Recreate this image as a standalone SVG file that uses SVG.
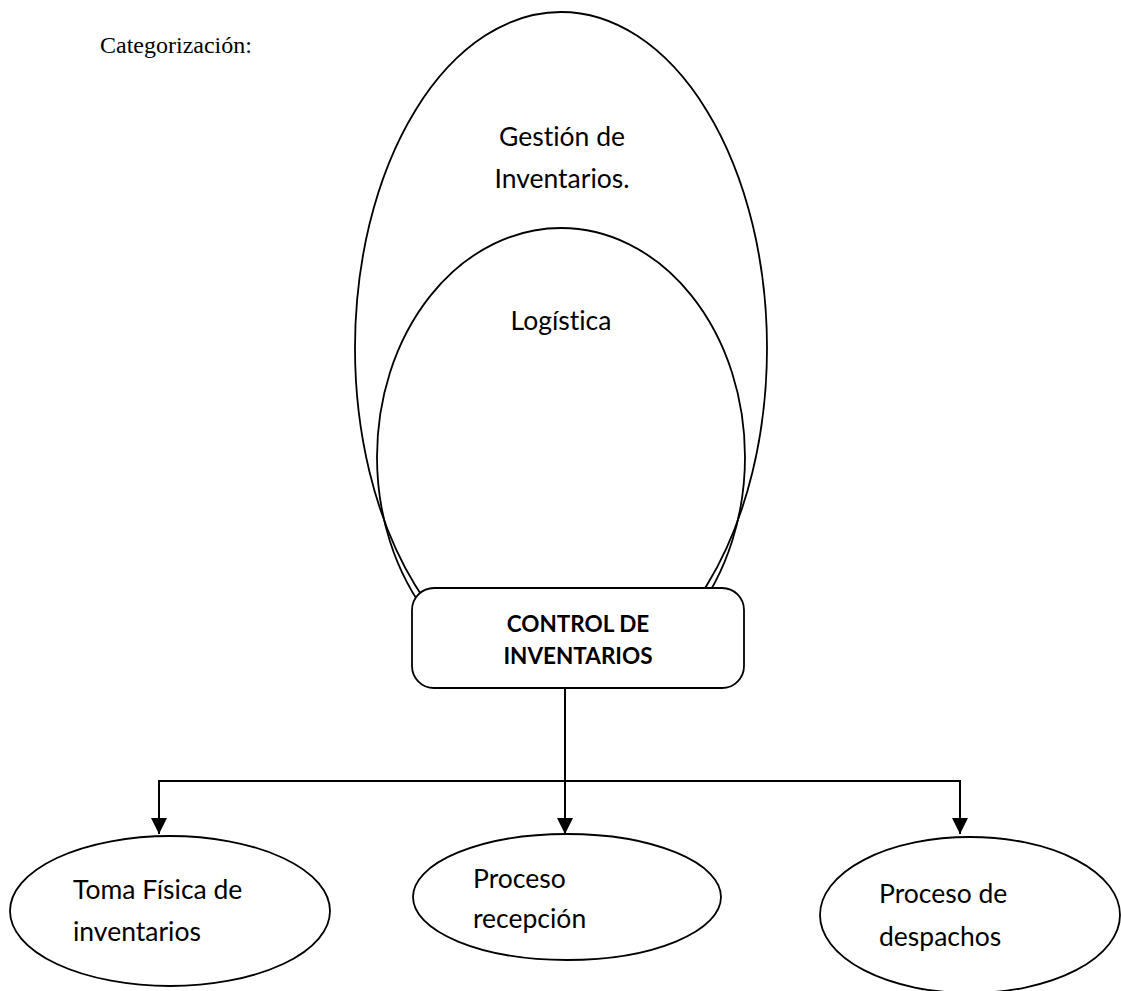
<svg xmlns="http://www.w3.org/2000/svg" width="1121" height="991" viewBox="0 0 1121 991">
  <style>
    .shape { fill: #ffffff; stroke: #000000; stroke-width: 1.8; }
    .ring { fill: none; stroke: #000000; stroke-width: 1.8; }
    .wire { fill: none; stroke: #000000; stroke-width: 2; }
    .lbl { font-family: Lato, "Open Sans", sans-serif; font-size: 26.5px; fill: #000000; font-variant-ligatures: none; font-feature-settings: "liga" 0, "dlig" 0; }
    .mid { text-anchor: middle; }
    .head { font-family: Lato, "Open Sans", sans-serif; font-size: 22.5px; font-weight: bold; fill: #000000; text-anchor: middle; }
    .title { font-family: "Liberation Serif", "Times New Roman", serif; font-size: 24px; fill: #000000; }
  </style>
  <defs>
    <marker id="arrow" viewBox="0 0 10 10" refX="10" refY="5" markerUnits="userSpaceOnUse" markerWidth="16" markerHeight="16" orient="auto">
      <path d="M0,0 L10,5 L0,10 Z" fill="#000000"/>
    </marker>
  </defs>
  <rect width="1121" height="991" fill="#ffffff"/>

  <text class="title" x="100" y="53">Categorización:</text>

  <!-- nested categories -->
  <g id="gestion">
    <ellipse class="ring" cx="561" cy="348" rx="206" ry="336"/>
    <text class="lbl mid" x="562" y="146">Gestión de</text>
    <text class="lbl mid" x="562" y="188">Inventarios.</text>
  </g>
  <g id="logistica">
    <ellipse class="ring" cx="561" cy="457" rx="184" ry="229"/>
    <text class="lbl mid" x="561" y="330">Logística</text>
  </g>

  <g id="control">
    <rect class="shape" x="412" y="588" width="332" height="100" rx="22" ry="22"/>
    <text class="head" x="578" y="632">CONTROL DE</text>
    <text class="head" x="578" y="664">INVENTARIOS</text>
  </g>

  <!-- branches from the control box -->
  <g id="connectors">
    <line class="wire" x1="565" y1="688" x2="565" y2="781"/>
    <line class="wire" x1="159" y1="781" x2="960" y2="781"/>
    <line class="wire" x1="159" y1="780" x2="159" y2="834" marker-end="url(#arrow)"/>
    <line class="wire" x1="565" y1="780" x2="565" y2="834" marker-end="url(#arrow)"/>
    <line class="wire" x1="960" y1="780" x2="960" y2="834" marker-end="url(#arrow)"/>
  </g>

  <g id="toma-fisica">
    <ellipse class="shape" cx="170" cy="911" rx="160" ry="75"/>
    <text class="lbl" x="73" y="899">Toma Física de</text>
    <text class="lbl" x="73" y="941">inventarios</text>
  </g>
  <g id="recepcion">
    <ellipse class="shape" cx="567" cy="897" rx="154" ry="63"/>
    <text class="lbl" x="473" y="888">Proceso</text>
    <text class="lbl" x="473" y="928">recepción</text>
  </g>
  <g id="despachos">
    <ellipse class="shape" cx="970" cy="915" rx="150" ry="78"/>
    <text class="lbl" x="879" y="903">Proceso de</text>
    <text class="lbl" x="879" y="946">despachos</text>
  </g>
</svg>
